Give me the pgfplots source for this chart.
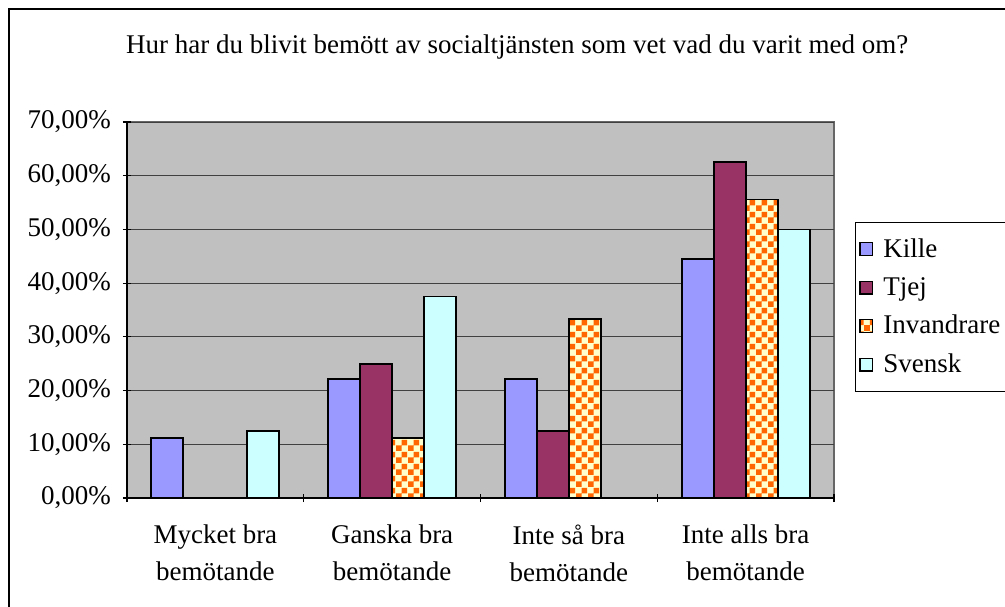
\documentclass[border=0pt]{standalone}
\usepackage{fontspec}
\setmainfont{Liberation Serif}
\usepackage{pgfplots}
\pgfplotsset{compat=1.18}
\usetikzlibrary{patterns}
\definecolor{plotbg}{HTML}{C0C0C0}
\definecolor{kille}{HTML}{9999FF}
\definecolor{tjej}{HTML}{993366}
\definecolor{svensk}{HTML}{CCFFFF}
\definecolor{checkor}{HTML}{FF6600}
\definecolor{checkbg}{HTML}{FFFFCC}

% small checkerboard, like the Excel fill
\pgfdeclarepatternformonly{checks}{\pgfqpoint{0pt}{0pt}}{\pgfqpoint{6pt}{6pt}}{\pgfqpoint{6pt}{6pt}}{
  \pgfpathrectangle{\pgfqpoint{0pt}{0pt}}{\pgfqpoint{3pt}{3pt}}
  \pgfpathrectangle{\pgfqpoint{3pt}{3pt}}{\pgfqpoint{3pt}{3pt}}
  \pgfusepath{fill}}

\begin{document}
\begin{tikzpicture}
\useasboundingbox (-63.5pt,-54pt) rectangle (439pt,249pt);
\draw[line width=1.2pt] (-59pt,-70pt) -- (-59pt,244.5pt) -- (460pt,244.5pt);
\begin{axis}[
  scale only axis,
  width=353.5pt, height=188pt,
  ybar=0pt, bar width=16pt,
  xmin=-0.5, xmax=3.5,
  ymin=0, ymax=70,
  ytick={0,10,...,70},
  yticklabel={\pgfmathprintnumber[fixed,fixed zerofill,precision=2,use comma,assume math mode=true]{\tick}\%},
  xtick={0,1,2,3},
  xticklabels={Mycket bra\\bemötande, Ganska bra\\bemötande, Inte så bra\\bemötande, Inte alls bra\\bemötande},
  minor xtick={-0.5,0.5,1.5,2.5,3.5},
  major x tick style={draw=none},
  tick align=outside,
  major tick length=4pt, minor tick length=4pt,
  tick style={black, line width=0.6pt},
  axis lines=left,
  axis line style={-, black, line width=0.8pt},
  axis background/.style={fill=plotbg, draw=gray!80!black, line width=0.8pt},
  ymajorgrids,
  major grid style={black!75, line width=0.5pt},
  tick label style={font=\fontsize{13.5}{18.5}\selectfont},
  xticklabel style={align=center, yshift=-8pt},
  yticklabel style={xshift=-2.5pt},
  title={Hur har du blivit bemött av socialtjänsten som vet vad du varit med om?},
  title style={at={(0.552,1.199)}, anchor=center, yshift=-6pt, font=\fontsize{13.5}{15}\selectfont},
  legend style={at={(1.0297,0.734)}, anchor=north west, draw=black, fill=white,
    font=\fontsize{13.5}{15}\selectfont, row sep=4.5pt, inner ysep=6pt, inner xsep=2pt,
    nodes={inner xsep=2pt}},
  legend cell align=left,
  legend image code/.code={\draw[#1, line width=0.6pt] (0pt,-3.2pt) rectangle (6.4pt,3.2pt);},
  every axis plot/.append style={draw=black, line width=0.9pt},
]
\addplot[fill=kille] coordinates {(0,11.11) (1,22.22) (2,22.22) (3,44.44)};
\addplot[fill=tjej] coordinates {(1,25.00) (2,12.50) (3,62.50)};
\addplot[fill=checkbg, postaction={pattern=checks, pattern color=checkor}] coordinates {(1,11.11) (2,33.33) (3,55.56)};
\addplot[fill=svensk] coordinates {(0,12.50) (1,37.50) (3,50.00)};
\legend{\hspace{3pt}Kille, \hspace{3pt}Tjej, \hspace{3pt}Invandrare, \hspace{3pt}Svensk}
\end{axis}
\end{tikzpicture}
\end{document}
